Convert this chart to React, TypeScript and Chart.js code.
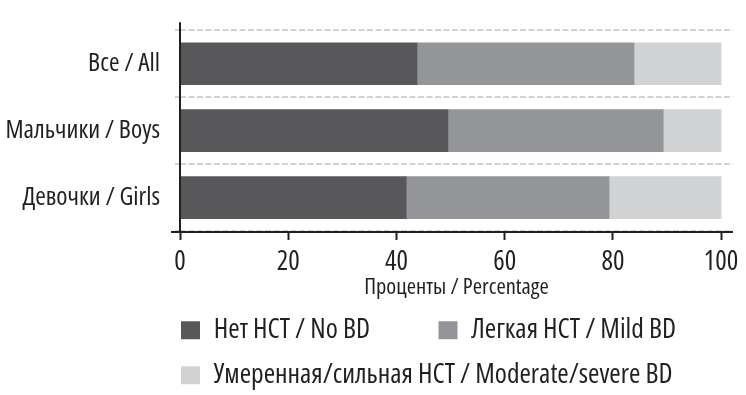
import React, { useEffect, useRef } from "react";
import { Chart, registerables } from "chart.js";

Chart.register(...registerables);

const categories = ["Все / All", "Мальчики / Boys", "Девочки / Girls"];
const noBD = [43.8, 49.5, 41.8];
const mildBD = [40.1, 39.8, 37.5];
const severeBD = [16.1, 10.7, 20.7];
const seriesLabels = [
  "Нет НСТ / No BD",
  "Легкая НСТ / Mild BD",
  "Умеренная/сильная НСТ / Moderate/severe BD",
];
const seriesColors = ["#58585a", "#939598", "#d1d2d4"];
const xTickValues = [0, 20, 40, 60, 80, 100];
const xTitle = "Проценты / Percentage";

const TEXT = "#231f20";
const FAMILY = "'Open Sans', 'DejaVu Sans Condensed', sans-serif";
const font = (size: number, lineHeight = 1.2) => ({
  family: FAMILY,
  size,
  weight: "condensed" as any,
  lineHeight,
});

const axisLines = {
  id: "axisLines",
  afterLayout(chart: any) {
    // start legend rows just right of the y axis
    const lg = chart.legend;
    if (lg) {
      const pad = lg.options.labels.padding;
      lg.left = chart.chartArea.left + 1 - pad;
    }
  },
  afterDatasetsDraw(chart: any) {
    const { ctx, chartArea } = chart;
    const { left, right, top, bottom } = chartArea;
    ctx.save();
    ctx.strokeStyle = TEXT;
    ctx.lineWidth = 2;
    ctx.beginPath();
    ctx.moveTo(left, top - 8);
    ctx.lineTo(left, bottom + 1);
    ctx.moveTo(left - 9, bottom + 1);
    ctx.lineTo(right, bottom + 1);
    ctx.stroke();
    ctx.restore();
  },
};

export default function App() {
  const ref = useRef<HTMLCanvasElement>(null);
  useEffect(() => {
    const canvas = ref.current!;
    const values = [noBD, mildBD, severeBD];
    const chart = new Chart(canvas, {
      type: "bar",
      data: {
        labels: categories,
        datasets: values.map((d, i) => ({
          label: seriesLabels[i],
          data: d,
          backgroundColor: seriesColors[i],
          borderWidth: 0,
          barThickness: 42,
        })),
      },
      options: {
        indexAxis: "y",
        responsive: false,
        animation: false,
        devicePixelRatio: 1,
        layout: { padding: { left: 0, right: 13, top: 12, bottom: -4 } },
        scales: {
          x: {
            stacked: true,
            min: 0,
            max: 102.2,
            afterBuildTicks: (scale: any) => {
              scale.ticks = xTickValues.map((v) => ({ value: v }));
            },
            afterFit: (scale: any) => {
              scale.height = 68;
            },
            border: { display: false },
            grid: {
              drawOnChartArea: false,
              drawTicks: true,
              tickLength: 9,
              tickColor: TEXT,
              tickWidth: 2,
              color: TEXT,
            },
            ticks: {
              font: font(27),
              color: TEXT,
              padding: 6,
              maxRotation: 0,
              autoSkip: false,
            },
            title: {
              display: true,
              text: xTitle,
              font: font(22.5, 1),
              color: TEXT,
              padding: { top: 0, bottom: 0 },
            },
          },
          y: {
            stacked: true,
            afterFit: (scale: any) => {
              scale.width = 180;
            },
            border: { display: false, dash: [6, 2.5] },
            grid: {
              offset: true,
              color: "#d3d3d3",
              lineWidth: 2,
              drawTicks: true,
              tickLength: 5,
              tickColor: "#d3d3d3",
              tickWidth: 2,
            },
            ticks: {
              font: font(25.5),
              color: TEXT,
              padding: 15,
            },
          },
        },
        plugins: {
          legend: {
            position: "bottom",
            align: "start",
            labels: {
              boxWidth: 19,
              boxHeight: 18,
              padding: 17.5,
              color: TEXT,
              font: font(27.5),
              generateLabels: (c: any) => {
                const items = Chart.defaults.plugins.legend.labels.generateLabels(c);
                return items.map((it: any, i: number) => ({
                  ...it,
                  text: i === 0 ? it.text + "          " : it.text,
                  lineWidth: 0,
                }));
              },
            },
          },
          tooltip: { enabled: false },
        },
      },
      plugins: [axisLines],
    } as any);
    return () => chart.destroy();
  }, []);
  return (
    <div style={{ position: "fixed", left: 0, top: 0, width: 746, height: 395, background: "#fff" }}>
      <canvas ref={ref} width={746} height={395} style={{ width: 746, height: 395, display: "block" }} />
    </div>
  );
}
